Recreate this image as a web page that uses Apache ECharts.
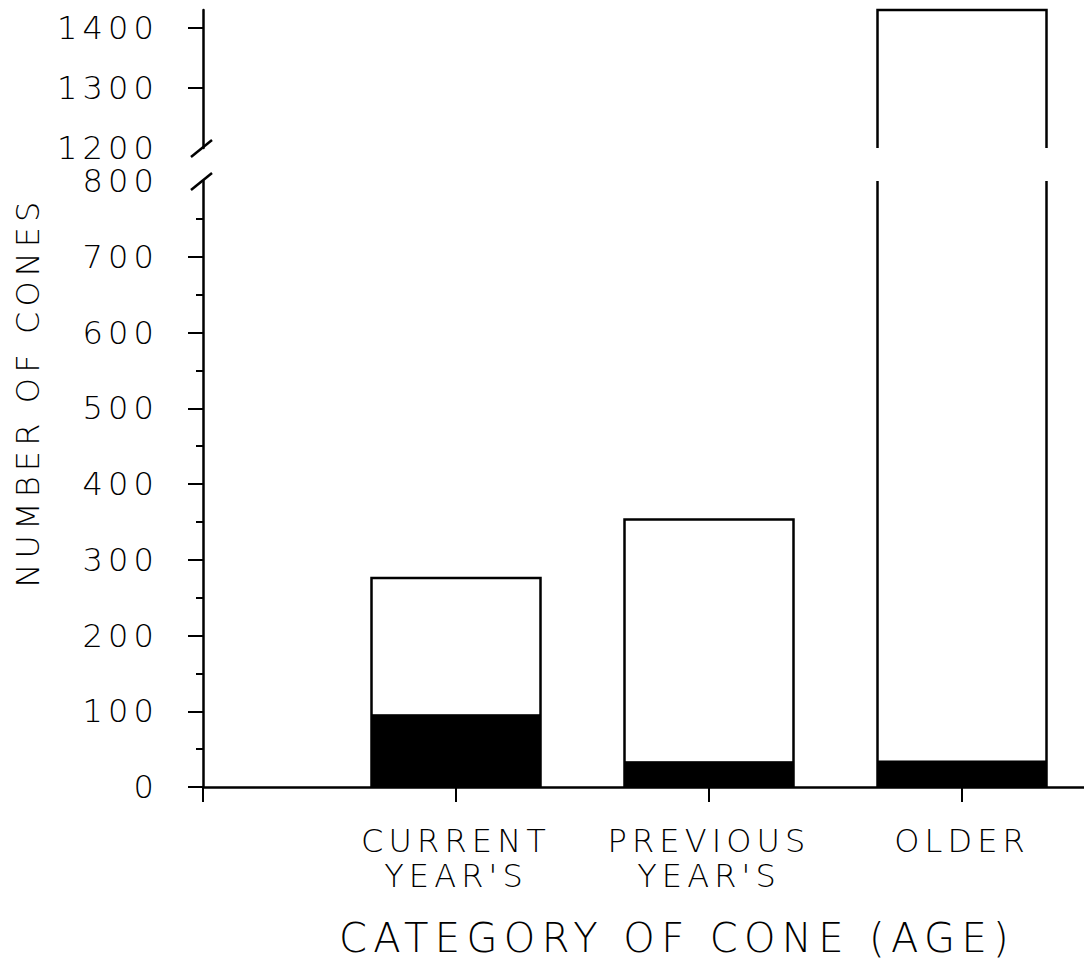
<!DOCTYPE html>
<html>
<head>
<meta charset="utf-8">
<script src="https://cdn.jsdelivr.net/npm/echarts@6/dist/echarts.min.js"></script>
<style>
  html, body { margin: 0; padding: 0; background: #fff; }
  #chart { width: 1084px; height: 979px; }
  /* wide plotter-style lettering */
  #chart text { letter-spacing: 0.16em; }
</style>
</head>
<body>
<div id="chart"></div>
<script>
// Cone counts by cone age; the dark part of each bar is the shaded subset.
const categories = ["CURRENT\nYEAR'S", "PREVIOUS\nYEAR'S", "OLDER"];
const totalCones = [276, 353, 1430];
const darkCones = [96, 34, 35];

// broken value axis: lower and upper segments
const lowerRange = [0, 800];
const upperRange = [1200, 1430];
const lowerMajorTicks = [0, 100, 200, 300, 400, 500, 600, 700];
const upperLabels = [1200, 1300, 1400];
const upperMajorTicks = [1300, 1400];
const upperMinorTicks = [1250, 1350];

const xTitle = 'CATEGORY OF CONE (AGE)';
const yTitle = 'NUMBER OF CONES';

const FONT = 'DejaVu Sans';
const INK = '#000';
const BAR_W = 169;
const LINE_W = 2.5;

// empty slots either side so the bars sit one step in from the axis origin
const axisSlots = [''].concat(categories, ['']);

const chart = echarts.init(document.getElementById('chart'), null, { renderer: 'svg' });

const labelStyle = { color: INK, fontFamily: FONT, fontSize: 32, fontWeight: 200 };
const plainNumber = v => String(v);

function outline(params, api) {
  const cs = params.coordSys;
  const idx = api.value(0);
  const x = api.coord([idx, 0])[0];
  let base = api.coord([idx, 0])[1];
  let top = api.coord([idx, api.value(1)])[1];
  const bottom = cs.y + cs.height;
  if (top >= bottom) return null;
  const closed = top >= cs.y;
  top = Math.max(top, cs.y);
  base = Math.min(base, bottom);
  const h = BAR_W / 2;
  const style = { stroke: INK, lineWidth: LINE_W, fill: null };
  if (closed) {
    return {
      type: 'polyline',
      shape: { points: [[x - h, base], [x - h, top], [x + h, top], [x + h, base]] },
      style: style
    };
  }
  return {
    type: 'group',
    children: [
      { type: 'line', shape: { x1: x - h, y1: base, x2: x - h, y2: top }, style: style },
      { type: 'line', shape: { x1: x + h, y1: base, x2: x + h, y2: top }, style: style }
    ]
  };
}

const outlineData = totalCones.map((v, i) => [i + 1, v]);

chart.setOption({
  backgroundColor: '#fff',
  animation: false,
  grid: [
    { left: 203, right: -131, top: 181, bottom: 192, outerBoundsMode: 'none', containLabel: false },
    { left: 203, right: -131, top: 10, bottom: 831, outerBoundsMode: 'none', containLabel: false }
  ],
  xAxis: [
    {
      type: 'category', gridIndex: 0, data: axisSlots, boundaryGap: false,
      axisLine: { lineStyle: { color: INK, width: LINE_W } },
      axisTick: { interval: 0, length: 15, lineStyle: { color: INK, width: 2 } },
      axisLabel: Object.assign({ interval: 0, margin: 36, lineHeight: 35 }, labelStyle),
      splitLine: { show: false }
    },
    {
      type: 'category', gridIndex: 1, data: axisSlots, boundaryGap: false, show: false
    }
  ],
  yAxis: [
    {
      type: 'value', gridIndex: 0, min: lowerRange[0], max: lowerRange[1], interval: 100,
      axisLine: { show: true, lineStyle: { color: INK, width: LINE_W } },
      axisTick: { show: true, length: 15, customValues: lowerMajorTicks, lineStyle: { color: INK, width: 2 } },
      minorTick: { show: true, splitNumber: 2, length: 7, lineStyle: { color: INK, width: 2 } },
      axisLabel: Object.assign({ margin: 44, formatter: plainNumber }, labelStyle),
      splitLine: { show: false }
    },
    {
      type: 'value', gridIndex: 1, min: upperRange[0], max: upperRange[1],
      axisLine: { show: true, lineStyle: { color: INK, width: LINE_W } },
      axisTick: { show: true, length: 15, customValues: upperMajorTicks, lineStyle: { color: INK, width: 2 } },
      axisLabel: Object.assign({ margin: 44, customValues: upperLabels, formatter: plainNumber }, labelStyle),
      splitLine: { show: false }
    },
    {
      type: 'value', gridIndex: 1, min: upperRange[0], max: upperRange[1],
      axisLine: { show: false },
      axisTick: { show: true, length: 7, customValues: upperMinorTicks, lineStyle: { color: INK, width: 2 } },
      axisLabel: { show: false },
      splitLine: { show: false }
    }
  ],
  series: [
    {
      type: 'bar', xAxisIndex: 0, yAxisIndex: 0,
      data: darkCones.map((v, i) => [i + 1, v]),
      barWidth: BAR_W,
      itemStyle: { color: INK, borderColor: INK, borderWidth: 1 }
    },
    {
      type: 'custom', xAxisIndex: 0, yAxisIndex: 0, data: outlineData,
      renderItem: outline, clip: false, z: 5
    },
    {
      type: 'custom', xAxisIndex: 1, yAxisIndex: 1, data: outlineData,
      renderItem: outline, clip: false, z: 5
    }
  ]
});

// axis-break slashes at the ends of the two value-axis segments
const lowerEnd = chart.convertToPixel({ xAxisIndex: 0, yAxisIndex: 0 }, [0, lowerRange[1]]);
const upperEnd = chart.convertToPixel({ xAxisIndex: 1, yAxisIndex: 1 }, [0, upperRange[0]]);
function slash(p) {
  return {
    type: 'line',
    shape: { x1: p[0] - 12, y1: p[1] + 9, x2: p[0] + 9, y2: p[1] - 8 },
    style: { stroke: INK, lineWidth: LINE_W },
    z: 10
  };
}

chart.setOption({
  graphic: [
    slash(lowerEnd),
    slash(upperEnd),
    {
      type: 'text', x: 677, y: 938,
      style: { text: xTitle, align: 'center', verticalAlign: 'middle', fill: INK,
               font: '200 40px "' + FONT + '"' }
    },
    {
      type: 'text', x: 28, y: 392, rotation: Math.PI / 2,
      style: { text: yTitle, align: 'center', verticalAlign: 'middle', fill: INK,
               font: '200 32px "' + FONT + '"' }
    }
  ]
});
</script>
</body>
</html>
